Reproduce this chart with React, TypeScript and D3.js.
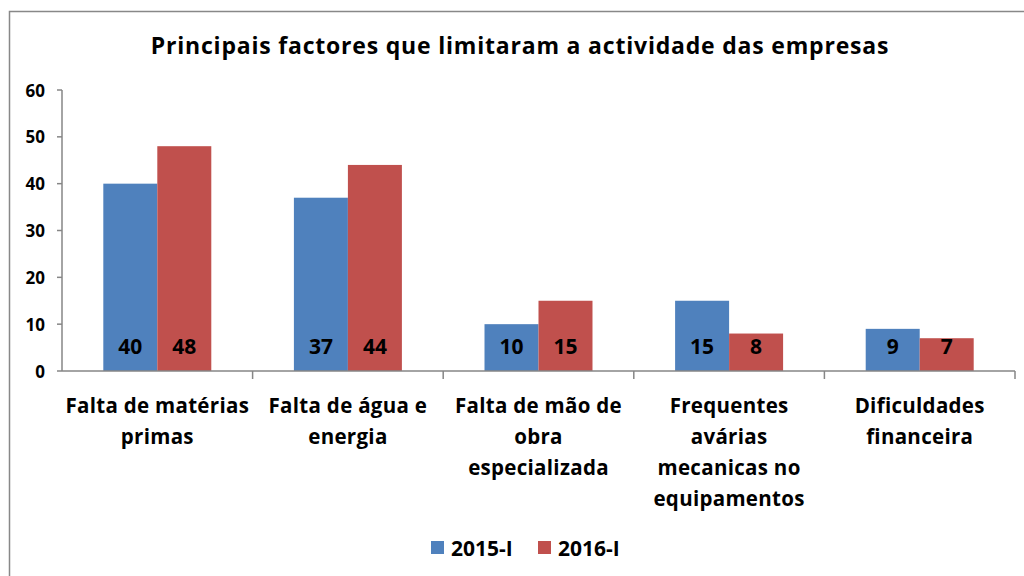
import React from "react";
import * as d3 from "d3";

const categories = [
  ["Falta de matérias", "primas"],
  ["Falta de água e", "energia"],
  ["Falta de mão de", "obra", "especializada"],
  ["Frequentes", "avárias", "mecanicas no", "equipamentos"],
  ["Dificuldades", "financeira"],
];
const series = ["2015-I", "2016-I"];
const values2015 = [40, 37, 10, 15, 9];
const values2016 = [48, 44, 15, 8, 7];
const yTicks = [0, 10, 20, 30, 40, 50, 60];
const colors = ["#4F81BD", "#C0504D"];

const W = 1024, H = 576;
const FONT = "'Open Sans', sans-serif";

export default function App() {
  const catKeys = categories.map((c) => c.join(" "));
  const x0 = d3.scaleBand<string>().domain(catKeys).range([62, 1015]).padding(0);
  const x1 = d3.scaleBand<string>().domain(series).range([0, x0.bandwidth()]).paddingInner(0).paddingOuter(0.765);
  const y = d3.scaleLinear().domain([0, 60]).range([371, 90]);
  const data = [values2015, values2016];
  const axisColor = "#868686";

  return (
    <svg width={W} height={H} style={{ position: "absolute", left: 0, top: 0, background: "#fff" }} fontFamily={FONT}>
      <rect x={9.5} y={11.5} width={1040} height={600} fill="#fff" stroke="#888" strokeWidth={1.5} />
      <text x={520} y={54} textAnchor="middle" fontSize={23} fontWeight="bold" fill="#000" letterSpacing={0.8}>
        Principais factores que limitaram a actividade das empresas
      </text>
      {catKeys.map((k, i) =>
        series.map((s, j) => {
          const v = data[j][i];
          const bx = (x0(k) as number) + (x1(s) as number);
          return (
            <g key={k + s}>
              <rect x={bx} y={y(v)} width={x1.bandwidth()} height={y(0) - y(v)} fill={colors[j]} />
              <text x={bx + x1.bandwidth() / 2} y={354} textAnchor="middle" fontSize={21} fontWeight="bold" fill="#000">
                {v}
              </text>
            </g>
          );
        })
      )}
      <line x1={62} x2={62} y1={y(60)} y2={y(0)} stroke={axisColor} strokeWidth={1.5} />
      {yTicks.map((t) => (
        <g key={t}>
          <line x1={57} x2={62} y1={y(t)} y2={y(t)} stroke={axisColor} strokeWidth={1.5} />
          <text x={45} y={y(t) + 6.5} textAnchor="end" fontSize={17} fontWeight="bold" fill="#000">
            {t}
          </text>
        </g>
      ))}
      <line x1={62} x2={1015} y1={y(0)} y2={y(0)} stroke={axisColor} strokeWidth={1.5} />
      {catKeys.map((k) => (
        <line key={"t" + k} x1={(x0(k) as number) + x0.bandwidth()} x2={(x0(k) as number) + x0.bandwidth()} y1={y(0)} y2={y(0) + 8} stroke={axisColor} strokeWidth={1.5} />
      ))}
      {categories.map((lines, i) => (
        <text key={"c" + i} textAnchor="middle" fontSize={20.5} fontWeight="bold" fill="#000" letterSpacing={0.3}>
          {lines.map((ln, li) => (
            <tspan key={li} x={(x0(catKeys[i]) as number) + x0.bandwidth() / 2} y={413 + li * 31}>
              {ln}
            </tspan>
          ))}
        </text>
      ))}
      {series.map((s, j) => (
        <g key={"l" + s}>
          <rect x={431 + j * 107} y={541} width={13} height={13} fill={colors[j]} />
          <text x={451 + j * 107} y={556} fontSize={21} fontWeight="bold" fill="#000">
            {s}
          </text>
        </g>
      ))}
    </svg>
  );
}
